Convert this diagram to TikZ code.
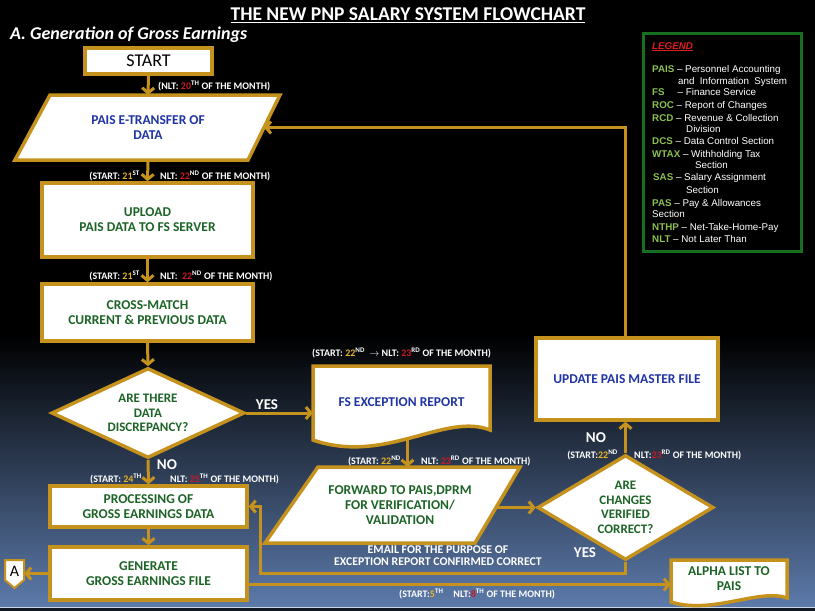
\documentclass[tikz,border=0pt]{standalone}
\usepackage{fontspec}
\setmainfont{Carlito}
\newfontfamily\arialf{Liberation Sans}
\usetikzlibrary{shapes.geometric,arrows.meta,calc}
\definecolor{gold}{RGB}{198,146,30}
\definecolor{txtgreen}{RGB}{28,100,38}
\definecolor{txtblue}{RGB}{32,52,165}
\definecolor{nltred}{RGB}{200,25,35}
\definecolor{startyel}{RGB}{232,180,35}
\definecolor{leggreen}{RGB}{140,192,80}
\definecolor{legred}{RGB}{220,30,30}
\definecolor{legborder}{RGB}{22,112,32}
\definecolor{bgblue}{RGB}{92,122,170}
\newcommand\stnum[2]{\textcolor{startyel}{#1}\textsuperscript{#2}}
\newcommand\nltnum[2]{\textcolor{nltred}{#1}\textsuperscript{#2}}
\newcommand\lgk[1]{\textcolor{leggreen}{\textbf{#1}}}
\begin{document}
\begin{tikzpicture}[x=1pt,y=-1pt,
  shp/.style={draw=gold, line width=3.5pt, fill=white},
  boxtxt/.style={inner sep=0pt, align=center, text=txtgreen, font=\bfseries\fontsize{13.5}{15}\selectfont},
  box/.style={shp, rectangle, boxtxt},
  ghost/.style={rectangle, boxtxt},
  dec/.style={diamond, shp, boxtxt},
  arr/.style={draw=gold, line width=3pt, -{Straight Barb[length=5pt,width=12pt]}},
  lab/.style={text=white, inner sep=0pt, font=\bfseries\fontsize{10}{11}\selectfont},
  ans/.style={text=white, inner sep=0pt, font=\bfseries\fontsize{15}{16}\selectfont},
  leg/.style={anchor=base west, inner sep=0pt, text=white, font=\arialf\fontsize{9.8}{11}\selectfont},
]
\useasboundingbox (0,0) rectangle (815,611);
% background
\fill[black] (0,0) rectangle (815,611);
\shade[top color=black, bottom color=bgblue] (0,335) rectangle (815,607);
\fill[black!80!bgblue] (0,607) rectangle (815,611);
\draw[white!70!bgblue, line width=1pt] (0,607.5) -- (815,607.5);

% titles
\node[text=white, font=\bfseries\fontsize{19.5}{22}\selectfont, inner sep=0pt] (title) at (408,15) {\underline{THE NEW PNP SALARY SYSTEM FLOWCHART}};
\node[text=white, anchor=west, font=\bfseries\itshape\fontsize{18}{20}\selectfont, inner sep=0pt] (subtitle) at (10,35) {A. Generation of Gross Earnings};

% legend
\draw[draw=legborder, line width=3pt, fill=black] (643,33) rectangle (801,251);
\node[leg] (lg0) at (652,49) {\textcolor{legred}{\textbf{\textit{\underline{LEGEND}}}}};
\node[leg] (lg1) at (652,72.5) {\lgk{PAIS} – Personnel Accounting};
\node[leg] (lg2) at (678,84.5) {and\ \ Information\ \ System};
\node[leg] (lg3) at (652,95.5) {\lgk{FS}\hspace{13pt}– Finance Service};
\node[leg] (lg4) at (652,108.5) {\lgk{ROC} – Report of Changes};
\node[leg] (lg5) at (652,121.5) {\lgk{RCD} – Revenue \& Collection};
\node[leg] (lg6) at (686,132.5) {Division};
\node[leg] (lg7) at (652,144.5) {\lgk{DCS} – Data Control Section};
\node[leg] (lg8) at (652,157.5) {\lgk{WTAX} – Withholding Tax};
\node[leg] (lg9) at (695,168.5) {Section};
\node[leg] (lg10) at (653,180.5) {\lgk{SAS} – Salary Assignment};
\node[leg] (lg11) at (686,193.5) {Section};
\node[leg] (lg12) at (652,206.5) {\lgk{PAS} – Pay \& Allowances};
\node[leg] (lg13) at (652,217.5) {Section};
\node[leg] (lg14) at (652,230.5) {\lgk{NTHP} – Net-Take-Home-Pay};
\node[leg] (lg15) at (652,242.5) {\lgk{NLT} – Not Later Than};

% shapes
\node[box, text=black, font=\fontsize{18}{20}\selectfont, minimum width=127, minimum height=26] (start) at (148.5,61) {START};

\draw[shp] (50,95) -- (280,95) -- (248,160) -- (15,160) -- cycle;
\node[ghost, text=txtblue, minimum width=200, minimum height=65] (pais) at (148,127.5) {PAIS E-TRANSFER OF\\DATA};
\coordinate (paisE) at (264,127.5);

\node[box, minimum width=211, minimum height=74] (upload) at (147.5,220) {UPLOAD\\PAIS DATA TO FS SERVER};
\node[box, minimum width=211, minimum height=57] (cross) at (147.5,312.5) {CROSS-MATCH\\CURRENT \& PREVIOUS DATA};
\node[dec, minimum width=193, minimum height=90, aspect=2.1, font=\bfseries\fontsize{13}{14.5}\selectfont] (dia1) at (148,413) {ARE THERE\\DATA\\DISCREPANCY?};

\draw[shp] (313,366) -- (490,366) -- (490,430) .. controls (445,412) and (385,465) .. (313,440) -- cycle;
\node[ghost, text=txtblue, minimum width=177, minimum height=76] (fs) at (401.5,402) {FS EXCEPTION REPORT};

\draw[shp] (318,467) -- (520,467) -- (475,543) -- (265,543) -- cycle;
\node[ghost, minimum width=160, minimum height=76] (fwd) at (400,505) {FORWARD TO PAIS,DPRM\\FOR VERIFICATION/\\VALIDATION};
\coordinate (fwdE) at (497,507.5);

\node[dec, minimum width=176, minimum height=105, aspect=1.68, font=\bfseries\fontsize{13}{14.5}\selectfont] (dia2) at (625.5,507.5) {ARE\\CHANGES\\VERIFIED\\CORRECT?};
\node[box, text=txtblue, minimum width=182, minimum height=82] (upd) at (627,379) {UPDATE PAIS MASTER FILE};

\node[box, minimum width=197, minimum height=41] (proc) at (148.5,506.5) {PROCESSING OF\\GROSS EARNINGS DATA};
\node[box, minimum width=197, minimum height=53] (gen) at (148.5,573.5) {GENERATE\\GROSS EARNINGS FILE};

\draw[draw=gold, line width=2pt, fill=white] (5,560) -- (24,560) -- (24,580) -- (14.5,588) -- (5,580) -- cycle;
\node[inner sep=0pt, minimum width=19, minimum height=22, font=\fontsize{16}{17}\selectfont] (offA) at (14.5,571) {A};

\draw[shp] (671,560) -- (787,560) -- (787,598) .. controls (760,588) and (712,615) .. (671,602) -- cycle;
\node[ghost, minimum width=116, minimum height=40] (alpha) at (729,579) {ALPHA LIST TO\\PAIS};

% connectors
\draw[arr] (start.south) -- (pais.north);
\draw[arr] (pais.south) -- (upload.north);
\draw[arr] (upload.south) -- (cross.north);
\draw[arr] (cross.south) -- (dia1.north);
\draw[arr] (dia1.east) -- (dia1.east -| fs.west);
\draw[arr] (dia1.south) -- (proc.north);
\draw[arr] ($(fs.south)+(6,0)$) -- ($(fs.south |- fwd.north)+(6,0)$);
\draw[arr] (fwdE) -- (dia2.west);
\draw[arr] (dia2.north) -- (dia2.north |- upd.south);
\draw[arr] (dia2.north |- upd.north) |- (paisE);
\draw[arr] (dia2.south) |- (260,573) |- (proc.east);
\draw[arr] (proc.south) -- (gen.north);
\draw[arr] (gen.west) -- (gen.west -| offA.east);
\draw[arr] ($(gen.east)+(0,11)$) -- ($(gen.east -| alpha.west)+(0,11)$);

% labels
\node[lab, anchor=west] (l0) at (158,86) {(NLT: \nltnum{20}{TH} OF THE MONTH)};
\node[lab, anchor=east] (l1a) at (140,176) {(START: \stnum{21}{ST}};
\node[lab, anchor=west] (l1b) at (160,176) {NLT: \nltnum{22}{ND} OF THE MONTH)};
\node[lab, anchor=east] (l2a) at (140,276) {(START: \stnum{21}{ST}};
\node[lab, anchor=west] (l2b) at (160,276) {NLT: \ \nltnum{22}{ND} OF THE MONTH)};
\node[lab, anchor=west] (l3) at (312,353) {(START: \stnum{22}{ND}\ \ $\rightarrow$ NLT: \nltnum{23}{RD} OF THE MONTH)};
\node[lab, anchor=east] (l4a) at (401,461) {(START: \stnum{22}{ND}};
\node[lab, anchor=west] (l4b) at (421,461) {NLT: \nltnum{23}{RD} OF THE MONTH)};
\node[lab, anchor=east] (l5a) at (618,455) {(START:\stnum{22}{ND}};
\node[lab, anchor=west] (l5b) at (634,455) {NLT:\nltnum{23}{RD} OF THE MONTH)};
\node[lab, anchor=east] (l6a) at (142,479) {(START: \stnum{24}{TH}};
\node[lab, anchor=west] (l6b) at (170,479) {NLT: \nltnum{25}{TH} OF THE MONTH)};
\node[lab, anchor=west] (l7) at (399,594) {(START:\stnum{5}{TH}\hspace{10pt}NLT:\nltnum{8}{TH} OF THE MONTH)};

\node[ans] (yes1) at (267,405) {YES};
\node[ans] (no1) at (167,465) {NO};
\node[ans] (no2) at (596,438) {NO};
\node[ans] (yes2) at (585,553) {YES};
\node[lab, align=center, font=\bfseries\fontsize{11.8}{12}\selectfont] (email) at (438,556) {EMAIL FOR THE PURPOSE OF\\EXCEPTION REPORT CONFIRMED CORRECT};
\end{tikzpicture}
\end{document}
